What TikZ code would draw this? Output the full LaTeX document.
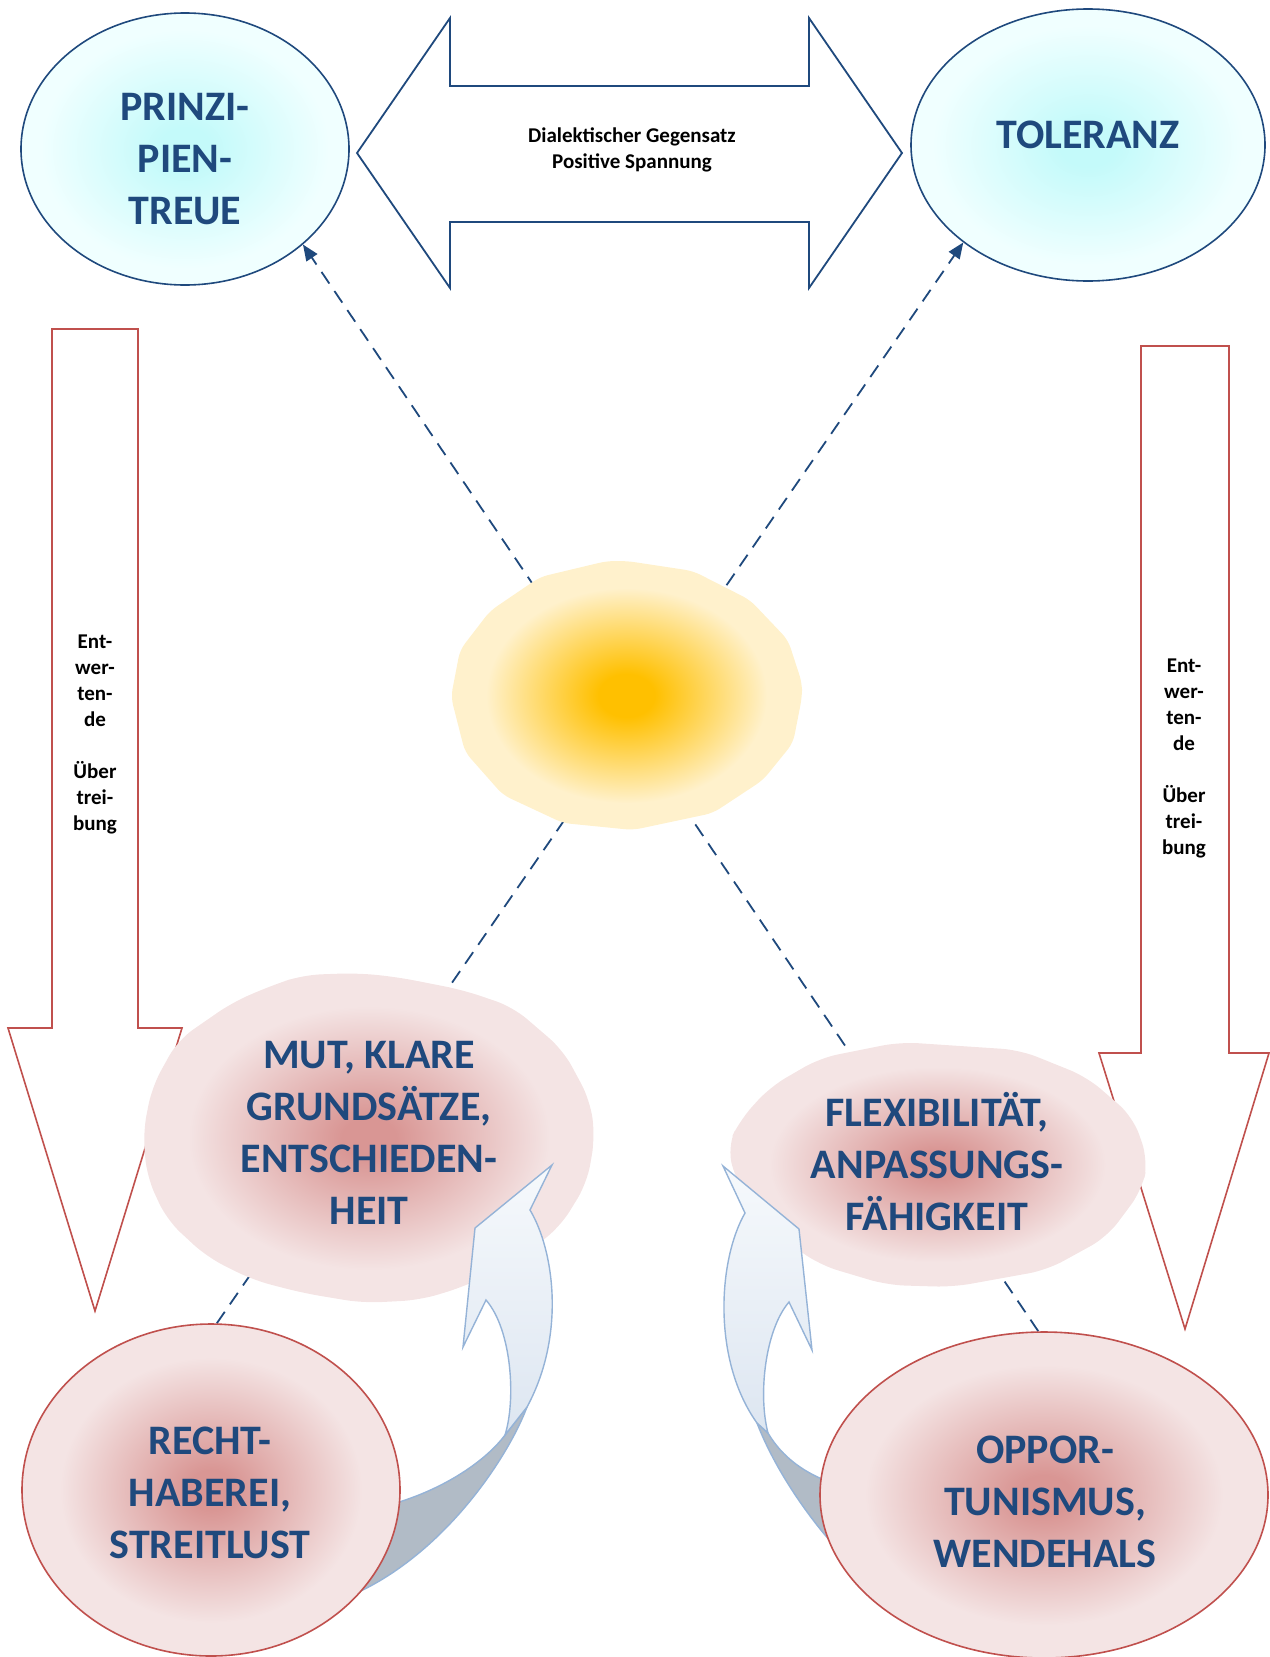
\documentclass[tikz,border=0pt]{standalone}
\usepackage{fontspec}
\setmainfont{Carlito}
\usetikzlibrary{shapes.geometric,arrows.meta}

\definecolor{navy}{HTML}{1F497D}
\definecolor{redline}{HTML}{C0504D}
\definecolor{rosein}{HTML}{D99694}
\definecolor{roseout}{HTML}{F4E4E4}
\definecolor{cyanin}{HTML}{C4FAFA}
\definecolor{cyanout}{HTML}{F0FFFF}
\definecolor{sunin}{HTML}{FFC000}
\definecolor{sunout}{HTML}{FFF1CC}
\definecolor{bendline}{HTML}{95B3D7}
\definecolor{bendtop}{HTML}{F6F9FC}
\definecolor{bendbot}{HTML}{DDE6F1}
\definecolor{bendback}{HTML}{B1BBC6}

\pgfdeclareradialshading{roseglow}{\pgfpoint{0bp}{0bp}}{color(0bp)=(rosein); color(3bp)=(rosein); color(20bp)=(roseout); color(50bp)=(roseout)}
\pgfdeclareradialshading{cyanglow}{\pgfpoint{0bp}{0bp}}{color(0bp)=(cyanin); color(4bp)=(cyanin); color(22bp)=(cyanout); color(50bp)=(cyanout)}
\pgfdeclareradialshading{sunglow}{\pgfpoint{0bp}{0bp}}{color(0bp)=(sunin); color(4bp)=(sunin); color(20bp)=(sunout); color(50bp)=(sunout)}

\pgfdeclarelayer{bg}
\pgfsetlayers{bg,main}

\begin{document}
\begin{tikzpicture}[x=1pt,y=-1pt]
\tikzstyle{every node}+=[inner sep=0pt]
\tikzstyle{bigtext}=[text=navy, font=\fontsize{42}{52}\selectfont\bfseries, align=center, anchor=base]
\tikzstyle{smalltext}=[text=black, font=\fontsize{21}{26}\selectfont\bfseries, align=center, anchor=base]
\tikzstyle{topoval}=[ellipse, draw=navy, line width=1.6pt, shade, shading=cyanglow]
\tikzstyle{lowoval}=[ellipse, draw=redline, line width=1.6pt, shade, shading=roseglow]
\tikzstyle{dashline}=[navy, line width=1.8pt, dash pattern=on 14pt off 9pt]
\tikzstyle{redarrow}=[draw=redline, fill=white, line width=1.6pt]
\tikzstyle{bendfront}=[draw=bendline, line width=1.4pt, top color=bendtop, bottom color=bendbot]
\tikzstyle{bendrear}=[draw=bendline, line width=1.4pt, fill=bendback]
\useasboundingbox (0,0) rectangle (1269,1657);
% upper pair
\node[topoval, minimum width=328pt, minimum height=272pt] (prinz) at (185,149) {};
\node[topoval, minimum width=354pt, minimum height=272pt] (toler) at (1088,145) {};
\draw [navy, line width=1.8pt, fill=white] (357,153) -- (450,18) -- (450,86) -- (809,86) -- (809,18) -- (902,153) -- (809,288) -- (809,222) -- (450,222) -- (450,288) -- cycle;
% side arrows
\draw [redarrow] (52,329) -- (138,329) -- (138,1028) -- (182,1028) -- (95,1311) -- (8,1028) -- (52,1028) -- cycle;
\draw [redarrow] (1141,346) -- (1229,346) -- (1229,1053) -- (1269,1053) -- (1185,1329) -- (1099,1053) -- (1141,1053) -- cycle;
% centre
\shade [shading=sunglow, rounded corners=8pt] (607,561) -- (627,561) -- (693,571) -- (750,600) -- (788,640) -- (802,683) -- (802,697) -- (793,743) -- (763,780) -- (713,813) -- (633,830) -- (563,823) -- (503,795) -- (465,752) -- (451,697) -- (460,650) -- (490,611) -- (540,577) -- cycle;
% virtues
\shade [shading=roseglow, rounded corners=18pt] (303,975) -- (357,973) -- (397,977) -- (463,990) -- (513,1007) -- (563,1050) -- (590,1100) -- (595,1137) -- (587,1183) -- (560,1227) -- (513,1263) -- (463,1287) -- (420,1300) -- (363,1303) -- (303,1293) -- (253,1280) -- (207,1257) -- (167,1220) -- (147,1177) -- (143,1133) -- (152,1087) -- (178,1040) -- (233,1002) -- (273,985) -- cycle;
\shade [shading=roseglow, rounded corners=18pt] (900,1042) -- (1020,1050) -- (1087,1077) -- (1133,1117) -- (1148,1160) -- (1142,1190) -- (1107,1237) -- (1047,1270) -- (953,1287) -- (887,1285) -- (820,1265) -- (770,1230) -- (737,1183) -- (727,1147) -- (740,1120) -- (770,1087) -- (820,1058) -- cycle;
% curved arrows
\path [bendrear] (505,1435) -- (527,1407) .. controls (507,1460) and (440,1560) .. (345,1598) -- (385,1506) .. controls (440,1492) and (485,1462) .. (505,1435) -- cycle;
\path [bendfront] (505,1435) .. controls (516,1400) and (512,1330) .. (486,1300) -- (463,1347) -- (475,1228) -- (552,1165) -- (530,1210) .. controls (554,1250) and (566,1335) .. (527,1407) -- cycle;
\path [bendrear] (757,1423) -- (768,1433) .. controls (782,1457) and (805,1474) .. (835,1484) -- (840,1552) .. controls (810,1520) and (775,1470) .. (757,1423) -- cycle;
\path [bendfront] (768,1433) .. controls (758,1395) and (765,1330) .. (789,1302) -- (812,1350) -- (799,1229) -- (723,1166) -- (745,1213) .. controls (718,1260) and (712,1360) .. (757,1423) -- cycle;
% lower pair
\node[lowoval, minimum width=378pt, minimum height=332pt] (recht) at (211,1490) {};
\node[lowoval, minimum width=448pt, minimum height=326pt] (oppor) at (1044,1495) {};
% texts (base = last line)
\node[bigtext] (prinztxt) at (185,224) {PRINZI-\\PIEN-\\TREUE};
\node[bigtext] (tolertxt) at (1088,148) {TOLERANZ};
\node[bigtext] (muttxt) at (369,1224) {MUT, KLARE\\GRUNDSÄTZE,\\ENTSCHIEDEN-\\HEIT};
\node[bigtext] (flextxt) at (937,1230) {FLEXIBILITÄT,\\ANPASSUNGS-\\FÄHIGKEIT};
\node[bigtext] (rechttxt) at (210,1558) {RECHT-\\HABEREI,\\STREITLUST};
\node[bigtext] (opportxt) at (1045,1567) {OPPOR-\\TUNISMUS,\\WENDEHALS};
\node[smalltext] (gegensatz) at (632,168) {Dialektischer Gegensatz\\Positive Spannung};
\node[smalltext] (leftdown) at (95,830) {Ent-\\wer-\\ten-\\de\\[26pt]Über\\trei-\\bung};
\node[smalltext] (rightdown) at (1184,854) {Ent-\\wer-\\ten-\\de\\[26pt]Über\\trei-\\bung};
% links behind everything
\begin{pgfonlayer}{bg}
\draw [dashline, -{Triangle[length=16pt,width=13pt]}] (oppor.92) -- (prinz.-39);
\draw [dashline, -{Triangle[length=16pt,width=13pt]}] (recht.88) -- (toler.218);
\end{pgfonlayer}
\end{tikzpicture}
\end{document}
